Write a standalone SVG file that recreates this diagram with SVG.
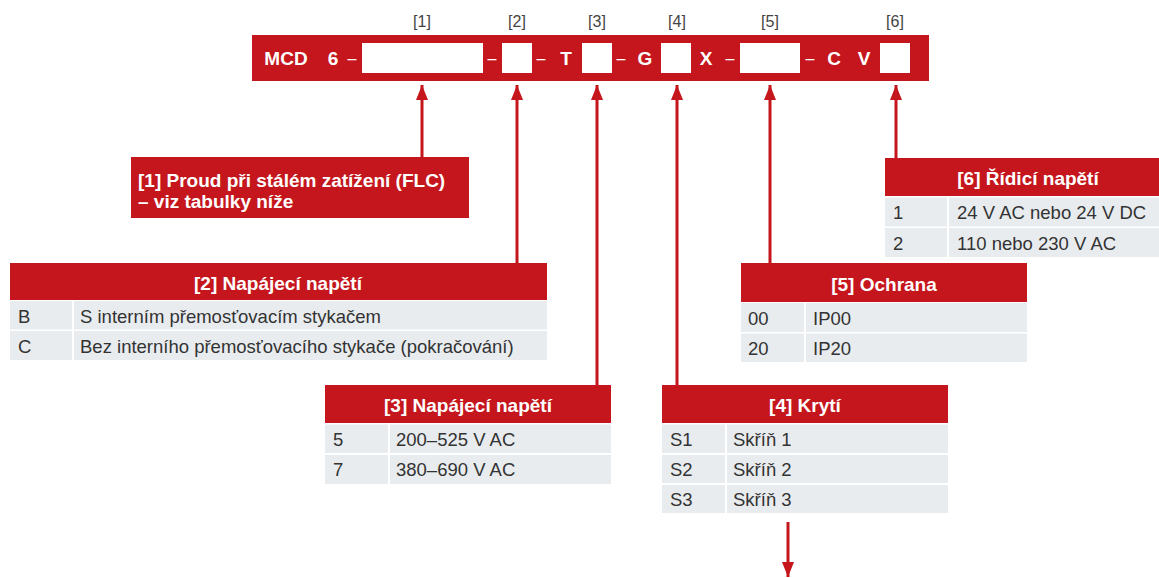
<svg xmlns="http://www.w3.org/2000/svg" width="1159" height="578" viewBox="0 0 1159 578">
<style>
.red{fill:#C4161C}
.cell{fill:#E8ECEF}
.box{fill:#FFFFFF}
.div{stroke:#FFFFFF;stroke-width:2}
.bar{font-family:"Liberation Sans",Arial,sans-serif;font-weight:bold;font-size:19px;fill:#FFFFFF;text-anchor:middle}
.dash{font-family:"Liberation Sans",Arial,sans-serif;font-size:16px;fill:#FFFFFF;text-anchor:middle}
.idx{font-family:"Liberation Sans",Arial,sans-serif;font-size:16px;fill:#444444;text-anchor:middle}
.hd{font-family:"Liberation Sans",Arial,sans-serif;font-weight:bold;font-size:19px;fill:#FFFFFF;text-anchor:middle}
.lb{font-family:"Liberation Sans",Arial,sans-serif;font-weight:bold;font-size:19px;fill:#FFFFFF}
.tx{font-family:"Liberation Sans",Arial,sans-serif;font-size:18.5px;fill:#333333}
.conn{stroke:#C4161C;stroke-width:3;fill:none}
</style>
<defs>
<marker id="ah" markerUnits="userSpaceOnUse" markerWidth="15" markerHeight="12" viewBox="0 0 15 12" refX="15" refY="6" orient="auto">
<path d="M0,0 L15,6 L0,12 z" fill="#C4161C"/>
</marker>
</defs>

<g id="code-bar">
<rect class="red" x="252" y="35" width="677" height="46"/>
<rect class="box" x="362" y="43" width="121" height="30"/>
<rect class="box" x="502" y="43" width="30" height="30"/>
<rect class="box" x="582" y="43" width="30" height="30"/>
<rect class="box" x="661" y="43" width="30" height="30"/>
<rect class="box" x="740" y="43" width="60" height="30"/>
<rect class="box" x="880" y="43" width="30" height="30"/>
<text class="bar" x="286" y="65">MCD</text>
<text class="bar" x="333" y="65">6</text>
<text class="dash" x="352" y="64">–</text>
<text class="dash" x="492" y="64">–</text>
<text class="dash" x="541" y="64">–</text>
<text class="bar" x="566" y="65">T</text>
<text class="dash" x="621" y="64">–</text>
<text class="bar" x="645" y="65">G</text>
<text class="bar" x="706" y="65">X</text>
<text class="dash" x="730" y="64">–</text>
<text class="dash" x="810" y="64">–</text>
<text class="bar" x="834" y="65">C</text>
<text class="bar" x="864" y="65">V</text>
<text class="idx" x="422" y="27">[1]</text>
<text class="idx" x="517" y="27">[2]</text>
<text class="idx" x="597" y="27">[3]</text>
<text class="idx" x="677" y="27">[4]</text>
<text class="idx" x="770" y="27">[5]</text>
<text class="idx" x="895" y="27">[6]</text>
</g>

<g id="connectors">
<line class="conn" x1="422" y1="157" x2="422" y2="85" marker-end="url(#ah)"/>
<line class="conn" x1="517" y1="263" x2="517" y2="85" marker-end="url(#ah)"/>
<line class="conn" x1="597" y1="385" x2="597" y2="85" marker-end="url(#ah)"/>
<line class="conn" x1="677" y1="385" x2="677" y2="85" marker-end="url(#ah)"/>
<line class="conn" x1="770" y1="263" x2="770" y2="85" marker-end="url(#ah)"/>
<line class="conn" x1="896" y1="158" x2="896" y2="85" marker-end="url(#ah)"/>
<line class="conn" x1="788" y1="522" x2="788" y2="577" marker-end="url(#ah)"/>
</g>

<g id="label-1">
<rect class="red" x="131" y="157" width="338" height="61"/>
<text class="lb" x="138" y="187">[1] Proud při stálém zatížení (FLC)</text>
<text class="lb" x="138" y="208">– viz tabulky níže</text>
</g>

<g id="table-2">
<rect class="red" x="10" y="263" width="537" height="37"/>
<rect class="cell" x="10" y="301" width="537" height="28.5"/>
<rect class="cell" x="10" y="331" width="537" height="29"/>
<line class="div" x1="73" y1="301" x2="73" y2="360"/>
<text class="hd" x="278" y="290">[2] Napájecí napětí</text>
<text class="tx" x="18" y="323">B</text>
<text class="tx" x="80" y="323">S interním přemosťovacím stykačem</text>
<text class="tx" x="18" y="353">C</text>
<text class="tx" x="80" y="353">Bez interního přemosťovacího stykače (pokračování)</text>
</g>

<g id="table-3">
<rect class="red" x="325" y="385" width="286" height="38"/>
<rect class="cell" x="325" y="424.5" width="286" height="28.5"/>
<rect class="cell" x="325" y="455" width="286" height="29"/>
<line class="div" x1="389" y1="424" x2="389" y2="484"/>
<text class="hd" x="468" y="412">[3] Napájecí napětí</text>
<text class="tx" x="333" y="446">5</text>
<text class="tx" x="396" y="446">200–525 V AC</text>
<text class="tx" x="333" y="476">7</text>
<text class="tx" x="396" y="476">380–690 V AC</text>
</g>

<g id="table-4">
<rect class="red" x="662" y="385" width="286" height="38"/>
<rect class="cell" x="662" y="424.5" width="286" height="28.5"/>
<rect class="cell" x="662" y="455" width="286" height="28"/>
<rect class="cell" x="662" y="485" width="286" height="28"/>
<line class="div" x1="726" y1="424" x2="726" y2="513"/>
<text class="hd" x="805" y="412">[4] Krytí</text>
<text class="tx" x="670" y="446">S1</text>
<text class="tx" x="733" y="446">Skříň 1</text>
<text class="tx" x="670" y="476">S2</text>
<text class="tx" x="733" y="476">Skříň 2</text>
<text class="tx" x="670" y="506">S3</text>
<text class="tx" x="733" y="506">Skříň 3</text>
</g>

<g id="table-5">
<rect class="red" x="741" y="263" width="286" height="39"/>
<rect class="cell" x="741" y="303" width="286" height="29"/>
<rect class="cell" x="741" y="333.5" width="286" height="28.5"/>
<line class="div" x1="805" y1="303" x2="805" y2="362"/>
<text class="hd" x="884" y="291">[5] Ochrana</text>
<text class="tx" x="748" y="325">00</text>
<text class="tx" x="813" y="325">IP00</text>
<text class="tx" x="748" y="355">20</text>
<text class="tx" x="813" y="355">IP20</text>
</g>

<g id="table-6">
<rect class="red" x="885" y="158" width="274" height="38"/>
<rect class="cell" x="885" y="197.5" width="274" height="29"/>
<rect class="cell" x="885" y="228" width="274" height="29"/>
<line class="div" x1="948" y1="197" x2="948" y2="257"/>
<text class="hd" x="1028" y="185">[6] Řídicí napětí</text>
<text class="tx" x="893" y="219">1</text>
<text class="tx" x="957" y="219">24 V AC nebo 24 V DC</text>
<text class="tx" x="893" y="250">2</text>
<text class="tx" x="957" y="250">110 nebo 230 V AC</text>
</g>
</svg>
